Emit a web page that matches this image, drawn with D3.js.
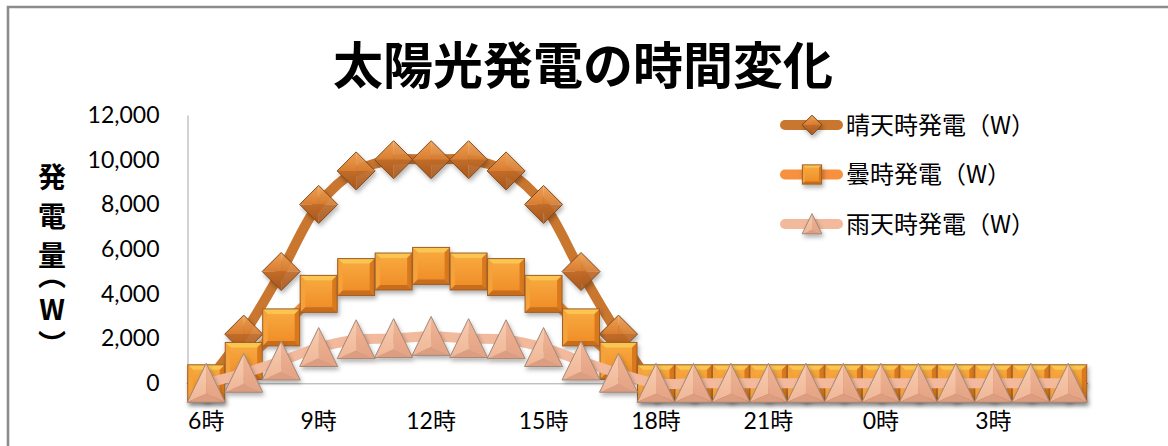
<!DOCTYPE html>
<html>
<head>
<meta charset="utf-8">
<script src="https://cdn.jsdelivr.net/npm/d3@7"></script>
<style>
  html, body { margin: 0; padding: 0; background: #fff; }
  svg { display: block; }
  .tick text { font-family: "Lato", "Noto Sans CJK JP", sans-serif; fill: #000; }
</style>
</head>
<body>
<svg id="chart" width="1168" height="446"></svg>
<script>
// --- data ---
const hours = ["6時","7時","8時","9時","10時","11時","12時","13時","14時","15時","16時","17時",
               "18時","19時","20時","21時","22時","23時","0時","1時","2時","3時","4時","5時"];
const hourTicks = ["6時","9時","12時","15時","18時","21時","0時","3時"];
const yTicks = [0, 2000, 4000, 6000, 8000, 10000, 12000];

const clearSky = [0, 2200, 5000, 8000, 9500, 10000, 10000, 10000, 9500, 8000, 5000, 2200,
                  0, 0, 0, 0, 0, 0, 0, 0, 0, 0, 0, 0];
const cloudy   = [0, 1000, 2500, 4000, 4750, 5000, 5250, 5000, 4750, 4000, 2500, 1000,
                  0, 0, 0, 0, 0, 0, 0, 0, 0, 0, 0, 0];
const rainy    = [0, 450, 1000, 1600, 1950, 2000, 2100, 2000, 1950, 1600, 1000, 450,
                  0, 0, 0, 0, 0, 0, 0, 0, 0, 0, 0, 0];

const seriesNames = ["晴天時発電（W）", "曇時発電（W）", "雨天時発電（W）"];
const titleText = "太陽光発電の時間変化";
const yTitleChars = ["発", "電", "量", "︵", "W", "︶"];

// --- layout ---
const svg = d3.select("#chart");
const plot = { left: 187.5, right: 1087, top: 115, bottom: 383.3 };

const x = d3.scaleBand().domain(hours).range([plot.left, plot.right]).padding(0);
const y = d3.scaleLinear().domain([0, 12000]).range([plot.bottom, plot.top]);
const cx = d => x(d) + x.bandwidth() / 2;

// chart frame (only top and left edges are inside the picture)
svg.append("path")
  .attr("d", "M8,1200 L8,7 L1200,7")
  .attr("fill", "none")
  .attr("stroke", "#8c8c8c")
  .attr("stroke-width", 2.6);

// shadow for the bevelled markers
const defs = svg.append("defs");
const shadow = defs.append("filter").attr("id", "mshadow")
  .attr("x", "-50%").attr("y", "-50%").attr("width", "200%").attr("height", "200%");
shadow.append("feDropShadow")
  .attr("dx", 1.5).attr("dy", 3).attr("stdDeviation", 2)
  .attr("flood-color", "#000").attr("flood-opacity", 0.3);

function grad(id, c1, c2, vertical) {
  const g = defs.append("linearGradient").attr("id", id)
    .attr("x1", 0).attr("y1", 0)
    .attr("x2", vertical ? 0 : 1).attr("y2", vertical ? 1 : 0);
  g.append("stop").attr("offset", "0%").attr("stop-color", c1);
  g.append("stop").attr("offset", "100%").attr("stop-color", c2);
}
grad("dTop", "#f0a052", "#d87d31", true);
grad("dBot", "#c26c29", "#a8571b", true);
grad("sFace", "#f8ac42", "#ef8a25", true);
grad("tLeft", "#f8ccb0", "#efb697", true);
grad("tRight", "#f0b597", "#e3a283", true);

const poly = pts => "M" + pts.map(p => p.join(",")).join("L") + "Z";

// pyramid diamond
function diamond(g, r) {
  const T = [0, -r], R = [r, 0], B = [0, r], L = [-r, 0], C = [0, 0];
  g.append("path").attr("d", poly([L, T, C])).attr("fill", "url(#dTop)");
  g.append("path").attr("d", poly([T, R, C])).attr("fill", "url(#dTop)").attr("opacity", 0.92);
  g.append("path").attr("d", poly([L, C, B])).attr("fill", "url(#dBot)");
  g.append("path").attr("d", poly([C, R, B])).attr("fill", "url(#dBot)").attr("opacity", 0.9);
  g.append("path").attr("d", poly([T, R, B, L])).attr("fill", "none")
    .attr("stroke", "#7d4a20").attr("stroke-width", 1);
}

// bevelled square
function square(g, h) {
  const b = h * 0.27;
  g.append("rect").attr("x", -h).attr("y", -h).attr("width", 2 * h).attr("height", 2 * h)
    .attr("fill", "url(#sFace)");
  g.append("path").attr("d", poly([[-h, -h], [h, -h], [h - b, -h + b], [-h + b, -h + b]])).attr("fill", "#fac64f");
  g.append("path").attr("d", poly([[-h, -h], [-h + b, -h + b], [-h + b, h - b], [-h, h]])).attr("fill", "#f5a23a");
  g.append("path").attr("d", poly([[h, -h], [h, h], [h - b, h - b], [h - b, -h + b]])).attr("fill", "#d9791f");
  g.append("path").attr("d", poly([[-h, h], [h, h], [h - b, h - b], [-h + b, h - b]])).attr("fill", "#c86d1d");
  g.append("rect").attr("x", -h).attr("y", -h).attr("width", 2 * h).attr("height", 2 * h)
    .attr("fill", "none").attr("stroke", "#9c5f2b").attr("stroke-width", 1);
}

// pyramid triangle
function triangle(g, s) {
  const A = [0, -s * 1.05], BL = [-s, s], BR = [s, s], C = [0, s * 0.55];
  g.append("path").attr("d", poly([A, BL, C])).attr("fill", "url(#tLeft)");
  g.append("path").attr("d", poly([A, C, BR])).attr("fill", "url(#tRight)");
  g.append("path").attr("d", poly([BL, BR, C])).attr("fill", "#dd9d80");
  g.append("path").attr("d", poly([A, BR, BL])).attr("fill", "none")
    .attr("stroke", "#a38676").attr("stroke-width", 1);
}

const series = [
  { name: seriesNames[0], values: clearSky, color: "#c9762f", marker: diamond, size: 19 },
  { name: seriesNames[1], values: cloudy,   color: "#f7913f", marker: square,   size: 18.5 },
  { name: seriesNames[2], values: rainy,    color: "#f3b99d", marker: triangle, size: 19 }
];

// --- axes ---
const yAxis = svg.append("g")
  .attr("transform", `translate(${plot.left},0)`)
  .call(d3.axisLeft(y).tickValues(yTicks).tickSize(0).tickSizeOuter(0)
    .tickPadding(28).tickFormat(d3.format(",")));
yAxis.select(".domain").attr("stroke", "#a6a6a6");
yAxis.selectAll(".tick text").style("font-size", "23px");

const xAxis = svg.append("g")
  .attr("transform", `translate(0,${plot.bottom})`)
  .call(d3.axisBottom(x).tickValues(hourTicks).tickSize(0).tickSizeOuter(0));
xAxis.select(".domain").attr("stroke", "#a6a6a6");
xAxis.selectAll(".tick text")
  .style("font-size", "23px")
  .attr("y", 38).attr("dy", "0.35em");

// --- series: line then markers, in series order ---
const line = d3.line()
  .x((d, i) => cx(hours[i]))
  .y(d => y(d))
  .curve(d3.curveCatmullRom.alpha(0.5));

series.forEach(s => {
  svg.append("path")
    .datum(s.values)
    .attr("d", line)
    .attr("fill", "none")
    .attr("stroke", s.color)
    .attr("stroke-width", 10)
    .attr("stroke-linejoin", "round");

  svg.append("g").selectAll("g")
    .data(s.values)
    .join("g")
    .attr("transform", (d, i) => `translate(${cx(hours[i])},${y(d)})`)
    .attr("filter", "url(#mshadow)")
    .each(function() { s.marker(d3.select(this), s.size); });
});

// --- legend ---
const legend = svg.append("g").attr("transform", "translate(780,125)");
series.forEach((s, i) => {
  const row = legend.append("g").attr("transform", `translate(0,${i * 49.5})`);
  row.append("line")
    .attr("x1", 5).attr("x2", 58).attr("y1", 0).attr("y2", 0)
    .attr("stroke", s.color).attr("stroke-width", 10).attr("stroke-linecap", "round");
  const m = row.append("g").attr("transform", "translate(32,0)").attr("filter", "url(#mshadow)");
  s.marker(m, s.size * 0.52);
  row.append("text")
    .attr("x", 66).attr("y", 0).attr("dy", "0.36em")
    .style("font-family", "'Noto Sans CJK JP', sans-serif")
    .style("font-size", "24px")
    .text(s.name);
});

// --- titles ---
svg.append("text")
  .attr("x", 583).attr("y", 84)
  .attr("text-anchor", "middle")
  .style("font-family", "'Noto Sans CJK JP', sans-serif")
  .style("font-weight", 700)
  .style("font-size", "50px")
  .text(titleText);

// vertical-form brackets sit off-centre in their em box, so their anchors are shifted
const yTitleY = [178, 217, 256, 276, 310, 345];
svg.append("g").selectAll("text")
  .data(yTitleChars)
  .join("text")
  .attr("x", 52)
  .attr("y", (d, i) => yTitleY[i])
  .attr("dy", "0.36em")
  .attr("text-anchor", "middle")
  .style("font-family", "'Noto Sans CJK JP', sans-serif")
  .style("font-weight", 700)
  .style("font-size", "28px")
  .text(d => d);
</script>
</body>
</html>
